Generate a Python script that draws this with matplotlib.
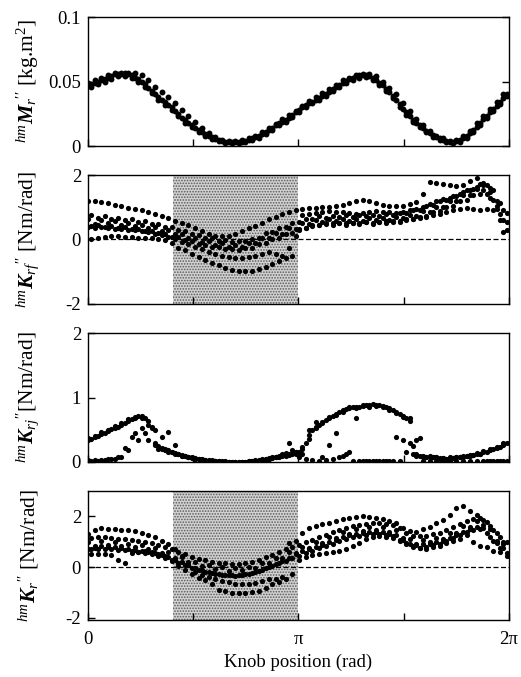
import matplotlib.pyplot as plt
import numpy as np

# knob positions (rad) of the two sampling passes
knob_a = [0.0, 0.1, 0.2, 0.3, 0.4, 0.5, 0.6, 0.7, 0.8, 0.9,
          1.0, 1.1, 1.2, 1.3, 1.4, 1.5, 1.6, 1.7, 1.8, 1.9,
          2.0, 2.1, 2.2, 2.3, 2.4, 2.5, 2.6, 2.7, 2.8, 2.9,
          3.0, 3.1, 3.2, 3.3, 3.4, 3.5, 3.6, 3.7, 3.8, 3.9,
          4.0, 4.1, 4.2, 4.3, 4.4, 4.5, 4.6, 4.7, 4.8, 4.9,
          5.0, 5.1, 5.2, 5.3, 5.4, 5.5, 5.6, 5.7, 5.8, 5.9,
          6.0, 6.1, 6.2]
knob_b = [0.05, 0.15, 0.25, 0.35, 0.45, 0.55, 0.65, 0.75, 0.85, 0.95,
          1.05, 1.15, 1.25, 1.35, 1.45, 1.55, 1.65, 1.75, 1.85, 1.95,
          2.05, 2.15, 2.25, 2.35, 2.45, 2.55, 2.65, 2.75, 2.85, 2.95,
          3.05, 3.15, 3.25, 3.35, 3.45, 3.55, 3.65, 3.75, 3.85, 3.95,
          4.05, 4.15, 4.25, 4.35, 4.45, 4.55, 4.65, 4.75, 4.85, 4.95,
          5.05, 5.15, 5.25, 5.35, 5.45, 5.55, 5.65, 5.75, 5.85, 5.95,
          6.05, 6.15, 6.25]

# hmMr'' [kg.m2]
mr_1 = [0.047, 0.049, 0.051, 0.053, 0.0555, 0.056, 0.0555, 0.053, 0.050, 0.045,
        0.040, 0.036, 0.032, 0.027, 0.022, 0.018, 0.014, 0.011, 0.008, 0.0055,
        0.004, 0.003, 0.003, 0.0035, 0.005, 0.007, 0.0095, 0.0125, 0.016, 0.019,
        0.022, 0.026, 0.030, 0.033, 0.036, 0.039, 0.042, 0.046, 0.049, 0.052,
        0.054, 0.055, 0.054, 0.051, 0.047, 0.042, 0.036, 0.029, 0.023, 0.018,
        0.014, 0.010, 0.007, 0.005, 0.0035, 0.004, 0.006, 0.010, 0.015, 0.021,
        0.026, 0.031, 0.037]
mr_2 = [0.048, 0.050, 0.052, 0.054, 0.056, 0.0565, 0.055, 0.052, 0.048, 0.043,
        0.038, 0.034, 0.030, 0.025, 0.020, 0.016, 0.0125, 0.0095, 0.007, 0.005,
        0.0035, 0.003, 0.0032, 0.004, 0.006, 0.008, 0.011, 0.014, 0.0175, 0.0205,
        0.024, 0.028, 0.0315, 0.0345, 0.0375, 0.0405, 0.044, 0.0475, 0.0505, 0.053,
        0.0548, 0.0552, 0.0528, 0.049, 0.0445, 0.039, 0.0325, 0.026, 0.0205, 0.016,
        0.012, 0.0085, 0.006, 0.004, 0.0035, 0.005, 0.008, 0.0125, 0.018, 0.0235,
        0.0285, 0.034, 0.040]
mr_3 = [0.049, 0.051, 0.053, 0.055, 0.057, 0.057, 0.057, 0.057, 0.055, 0.051,
        0.046, 0.042, 0.038, 0.033, 0.028, 0.023, 0.019, 0.014, 0.010, 0.007,
        0.005, 0.004, 0.004, 0.005, 0.006, 0.008, 0.011, 0.014, 0.017, 0.021,
        0.024, 0.027, 0.031, 0.035, 0.038, 0.041, 0.044, 0.047, 0.051, 0.053,
        0.055, 0.056, 0.056, 0.054, 0.050, 0.045, 0.040, 0.033, 0.027, 0.021,
        0.016, 0.012, 0.008, 0.006, 0.004, 0.005, 0.008, 0.012, 0.018, 0.023,
        0.029, 0.034, 0.040]
mr_4 = [0.046, 0.048, 0.050, 0.052, 0.054, 0.0545, 0.053, 0.050, 0.046, 0.041,
        0.036, 0.032, 0.028, 0.023, 0.018, 0.0145, 0.011, 0.008, 0.0055, 0.0038,
        0.0025, 0.002, 0.002, 0.003, 0.0045, 0.0065, 0.0095, 0.0125, 0.016, 0.019,
        0.0225, 0.0265, 0.030, 0.033, 0.036, 0.039, 0.0425, 0.046, 0.049, 0.0515,
        0.053, 0.0538, 0.0515, 0.0475, 0.043, 0.037, 0.0305, 0.024, 0.019, 0.0145,
        0.0105, 0.007, 0.0045, 0.003, 0.002, 0.0035, 0.0065, 0.011, 0.0165, 0.022,
        0.027, 0.0325, 0.0385]

# hmKrf'' [Nm/rad]
krf_1 = [0.62, 0.48, 0.60, 0.50, 0.58, 0.46, 0.52, 0.42, 0.46, 0.35,
         0.38, 0.27, 0.28, 0.16, 0.17, 0.05, 0.06, -0.08, -0.04, -0.16,
         -0.11, -0.22, -0.16, -0.22, -0.10, -0.12, 0.05, 0.04, 0.20, 0.18,
         0.35, 0.34, 0.50, 0.48, 0.60, 0.54, 0.64, 0.56, 0.64, 0.57,
         0.65, 0.58, 0.66, 0.59, 0.68, 0.61, 0.71, 0.66, 0.77, 0.74,
         0.88, 0.86, 1.02, 1.02, 1.18, 1.20, 1.37, 1.38, 1.56, 1.55,
         1.60, 1.18, 0.90]
krf_2 = [0.76, 0.66, 0.72, 0.63, 0.68, 0.60, 0.63, 0.55, 0.57, 0.48,
         0.49, 0.40, 0.39, 0.28, 0.27, 0.16, 0.15, 0.04, 0.05, -0.04,
         -0.02, -0.09, -0.05, -0.06, 0.03, 0.06, 0.19, 0.22, 0.35, 0.38,
         0.51, 0.54, 0.65, 0.64, 0.72, 0.68, 0.74, 0.70, 0.75, 0.71,
         0.76, 0.72, 0.77, 0.73, 0.79, 0.76, 0.83, 0.82, 0.91, 0.92,
         1.03, 1.06, 1.18, 1.22, 1.35, 1.40, 1.53, 1.58, 1.71, 1.68,
         1.52, 1.12, 0.82]
krf_3 = [0.42, 0.46, 0.38, 0.43, 0.36, 0.39, 0.32, 0.34, 0.26, 0.27,
         0.19, 0.18, 0.09, 0.08, -0.03, -0.05, -0.15, -0.16, -0.24, -0.24,
         -0.30, -0.29, -0.33, -0.26, -0.26, -0.14, -0.10, 0.02, 0.04, 0.16,
         0.20, 0.32, 0.36, 0.45, 0.44, 0.50, 0.46, 0.51, 0.46, 0.52,
         0.47, 0.53, 0.48, 0.54, 0.51, 0.57, 0.55, 0.62, 0.62, 0.70,
         0.73, 0.84, 0.88, 1.00, 1.05, 1.18, 1.24, 1.37, 1.42, 1.40,
         1.22, 0.78, 0.55]
krf_4 = [1.20, 1.18, 1.16, 1.13, 1.08, 1.03, 0.98, 0.95, 0.92, 0.86,
         0.78, 0.72, 0.66, 0.58, 0.52, 0.45, 0.35, 0.25, 0.18, 0.12,
         0.10, 0.12, 0.18, 0.26, 0.35, 0.42, 0.52, 0.62, 0.70, 0.80,
         0.86, 0.92, 0.95, 0.97, 0.99, 1.00, 1.02, 1.03, 1.08, 1.12,
         1.18, 1.22, 1.18, 1.12, 1.08, 1.05, 1.03, 1.05, 1.10, 1.15,
         1.40, 1.78, 1.75, 1.72, 1.68, 1.65, 1.70, 1.82, 1.92, 1.76,
         1.48, 1.05, 0.22]
krf_5 = [0.03, 0.05, 0.08, 0.10, 0.10, 0.09, 0.08, 0.06, 0.05, 0.04,
         0.02, -0.02, -0.10, -0.25, -0.34, -0.45, -0.55, -0.64, -0.72, -0.80,
         -0.87, -0.94, -0.98, -0.99, -0.97, -0.92, -0.86, -0.76, -0.67, -0.58,
         -0.50, 0.28, 0.35, 0.42, 0.45, 0.48, 0.50, 0.50, 0.52, 0.50,
         0.52, 0.54, 0.52, 0.55, 0.56, 0.55, 0.58, 0.60, 0.62, 0.66,
         0.70, 0.75, 0.80, 0.86, 0.90, 0.95, 0.97, 0.95, 0.92, 0.96,
         0.92, 0.60, 0.30]
krf_6 = [0.40, 0.35, 0.38, 0.36, 0.34, 0.32, 0.30, 0.28, 0.25, 0.22,
         0.18, 0.14, 0.08, 0.02, -0.08, -0.15, -0.22, -0.30, -0.38, -0.45,
         -0.50, -0.54, -0.56, -0.58, -0.55, -0.52, -0.46, -0.40, -0.45, -0.50,
         -0.25, 0.10, 0.75, 0.80, 0.82, 0.85, 0.88, 0.86, 0.84, 0.82,
         0.80, 0.82, 0.85, 0.88, 0.86, 0.84, 0.82, 0.85, 0.90, 0.96,
         1.02, 1.10, 1.18, 1.25, 1.30, 1.35, 1.48, 1.55, 1.62, 1.68,
         1.30, 0.95, 0.60]

# hmKrj'' [Nm/rad]
krj_1 = [0.34, 0.39, 0.43, 0.48, 0.53, 0.58, 0.63, 0.68, 0.71, 0.64,
         0.30, 0.22, 0.18, 0.14, 0.11, 0.08, 0.06, 0.04, 0.03, 0.02,
         0.01, 0.005, 0.0, 0.0, 0.01, 0.02, 0.035, 0.05, 0.07, 0.09,
         0.11, 0.13, 0.20, 0.36, 0.55, 0.62, 0.68, 0.75, 0.80, 0.83,
         0.86, 0.87, 0.88, 0.89, 0.87, 0.83, 0.78, 0.72, 0.64, 0.10,
         0.08, 0.08, 0.07, 0.06, 0.06, 0.07, 0.08, 0.10, 0.12, 0.15,
         0.18, 0.22, 0.27]
krj_2 = [0.36, 0.41, 0.45, 0.51, 0.55, 0.61, 0.66, 0.72, 0.68, 0.52,
         0.25, 0.20, 0.16, 0.13, 0.10, 0.07, 0.05, 0.035, 0.025, 0.015,
         0.01, 0.0, 0.0, 0.005, 0.015, 0.03, 0.04, 0.06, 0.08, 0.10,
         0.12, 0.15, 0.30, 0.50, 0.58, 0.65, 0.72, 0.78, 0.82, 0.85,
         0.86, 0.88, 0.90, 0.88, 0.85, 0.81, 0.75, 0.68, 0.12, 0.09,
         0.08, 0.07, 0.06, 0.05, 0.06, 0.08, 0.09, 0.11, 0.13, 0.16,
         0.20, 0.24, 0.29]
krj_3 = [0.03, 0.03, 0.03, 0.04, 0.05, 0.08, 0.19, 0.45, 0.53, 0.34,
         0.50, 0.39, 0.47, 0.26, 0.10, 0.07, 0.05, 0.03, 0.02, 0.01,
         0.0, 0.0, 0.0, 0.0, 0.0, 0.01, 0.02, 0.04, 0.08, 0.12,
         0.30, 0.16, 0.12, 0.50, 0.62, 0.08, 0.26, 0.45, 0.09, 0.16,
         0.68, 0.02, 0.02, 0.02, 0.02, 0.02, 0.39, 0.34, 0.30, 0.34,
         0.02, 0.02, 0.015, 0.015, 0.015, 0.015, 0.015, 0.015, 0.015, 0.015,
         0.015, 0.015, 0.015]
krj_4 = [0.02, 0.02, 0.03, 0.04, 0.08, 0.21, 0.39, 0.34, 0.45, 0.55,
         0.20, 0.18, 0.16, 0.12, 0.09, 0.06, 0.045, 0.03, 0.02, 0.01,
         0.005, 0.0, 0.0, 0.005, 0.01, 0.02, 0.05, 0.08, 0.10, 0.14,
         0.18, 0.08, 0.05, 0.03, 0.02, 0.03, 0.05, 0.08, 0.12, 0.02,
         0.02, 0.02, 0.02, 0.02, 0.02, 0.02, 0.02, 0.16, 0.25, 0.37,
         0.08, 0.07, 0.05, 0.05, 0.06, 0.07, 0.09, 0.11, 0.13, 0.01,
         0.01, 0.01, 0.015]
krj_5 = [0.37, 0.41, 0.46, 0.50, 0.56, 0.60, 0.66, 0.70, 0.68, 0.58,
         0.26, 0.20, 0.16, 0.13, 0.10, 0.07, 0.05, 0.035, 0.02, 0.015,
         0.005, 0.0, 0.005, 0.005, 0.015, 0.025, 0.04, 0.06, 0.08, 0.11,
         0.13, 0.15, 0.24, 0.42, 0.52, 0.60, 0.70, 0.73, 0.78, 0.85,
         0.84, 0.89, 0.86, 0.87, 0.85, 0.80, 0.76, 0.70, 0.68, 0.12,
         0.10, 0.09, 0.07, 0.06, 0.07, 0.08, 0.10, 0.11, 0.14, 0.17,
         0.20, 0.24, 0.29]

# hmKr'' [Nm/rad]
kr_1 = [1.00, 0.85, 1.02, 0.88, 1.00, 0.84, 0.92, 0.78, 0.86, 0.70,
        0.76, 0.56, 0.58, 0.38, 0.40, 0.20, 0.22, 0.03, 0.08, -0.08,
        0.00, -0.14, -0.03, -0.12, 0.02, -0.02, 0.18, 0.16, 0.38, 0.37,
        0.60, 0.56, 0.80, 0.76, 1.00, 0.96, 1.18, 1.14, 1.38, 1.32,
        1.52, 1.42, 1.58, 1.46, 1.57, 1.40, 1.46, 1.15, 1.12, 0.92,
        1.06, 0.98, 1.16, 1.10, 1.36, 1.35, 1.62, 1.58, 1.80, 1.65,
        1.50, 1.02, 0.92]
kr_2 = [1.15, 1.18, 1.19, 1.16, 1.13, 1.10, 1.07, 1.04, 0.99, 0.94,
        0.88, 0.79, 0.70, 0.61, 0.52, 0.42, 0.34, 0.27, 0.21, 0.17,
        0.15, 0.13, 0.14, 0.17, 0.22, 0.30, 0.39, 0.49, 0.60, 0.70,
        0.80, 0.89, 0.99, 1.09, 1.19, 1.28, 1.37, 1.47, 1.56, 1.63,
        1.68, 1.71, 1.73, 1.73, 1.70, 1.65, 1.53, 1.36, 1.24, 1.21,
        1.24, 1.30, 1.36, 1.46, 1.58, 1.70, 1.82, 1.90, 1.94, 1.78,
        1.47, 1.20, 1.00]
kr_3 = [0.70, 0.72, 0.73, 0.72, 0.69, 0.66, 0.63, 0.60, 0.55, 0.50,
        0.44, 0.35, 0.26, 0.17, 0.08, -0.02, -0.10, -0.17, -0.23, -0.27,
        -0.29, -0.31, -0.30, -0.27, -0.22, -0.14, -0.05, 0.05, 0.16, 0.26,
        0.36, 0.45, 0.55, 0.65, 0.75, 0.84, 0.93, 1.03, 1.12, 1.19,
        1.24, 1.27, 1.29, 1.29, 1.26, 1.21, 1.09, 0.92, 0.80, 0.77,
        0.80, 0.86, 0.92, 1.02, 1.14, 1.26, 1.38, 1.46, 1.50, 1.34,
        1.03, 0.76, 0.56]
kr_4 = [1.30, 1.45, 1.55, 1.52, 1.50, 1.48, 1.45, 1.42, 1.35, 1.28,
        1.18, 1.05, 0.90, 0.70, 0.45, 0.10, -0.20, -0.30, -0.40, -0.48,
        -0.55, -0.60, -0.65, -0.68, -0.66, -0.62, -0.55, -0.48, -0.45, -0.38,
        0.95, 1.05, 1.35, 1.55, 1.62, 1.70, 1.74, 1.82, 1.90, 1.94,
        1.98, 2.00, 1.98, 1.94, 1.90, 1.80, 1.74, 1.55, 1.42, 1.40,
        1.52, 1.60, 1.75, 1.87, 2.05, 2.35, 2.40, 2.20, 2.05, 1.85,
        1.62, 1.35, 1.00]
kr_5 = [0.50, 0.52, 0.50, 0.48, 0.30, 0.15, 0.55, 0.60, 0.62, 0.58,
        0.50, 0.45, 0.30, 0.05, -0.12, -0.26, -0.42, -0.52, -0.65, -0.88,
        -0.92, -1.03, -1.03, -1.00, -0.98, -0.92, -0.80, -0.65, -0.58, -0.45,
        -0.28, 0.30, 0.40, 0.48, 0.50, 0.55, 0.58, 0.65, 0.70, 0.82,
        0.95, 1.10, 1.20, 1.22, 1.20, 1.15, 1.05, 0.95, 0.82, 0.75,
        0.70, 0.78, 0.85, 0.95, 1.05, 1.12, 1.25, 1.00, 0.85, 0.80,
        0.65, 0.60, 0.45]
kr_6 = [0.70, 0.75, 0.82, 0.80, 0.78, 0.76, 0.72, 0.68, 0.64, 0.60,
        0.55, 0.48, 0.40, 0.30, 0.20, 0.08, -0.02, -0.12, -0.20, -0.26,
        -0.30, -0.32, -0.34, -0.32, -0.28, -0.20, -0.10, 0.00, 0.12, 0.25,
        0.38, 0.50, 0.62, 0.70, 0.78, 0.88, 0.98, 1.08, 1.18, 1.25,
        1.32, 1.35, 1.38, 1.40, 1.38, 1.32, 1.25, 1.08, 0.92, 0.88,
        0.90, 0.92, 0.98, 1.05, 1.15, 1.28, 1.40, 1.50, 1.58, 1.55,
        1.20, 0.95, 0.75]

shade_start = 1.27  # start of the shaded knob range (rad)

plt.rcParams["font.family"] = "Liberation Serif"
plt.rcParams["mathtext.fontset"] = "custom"
plt.rcParams["mathtext.rm"] = "Liberation Serif"
plt.rcParams["mathtext.it"] = "Liberation Serif:italic"
plt.rcParams["mathtext.bf"] = "Liberation Serif:bold"
plt.rcParams["mathtext.bfit"] = "Liberation Serif:bold:italic"
plt.rcParams["hatch.linewidth"] = 0.8

fig = plt.figure(figsize=(5.21, 6.77), dpi=100)
bottoms = [0.7843, 0.5510, 0.3176, 0.0842]
axes = [fig.add_axes([0.1689, b, 0.808, 0.1905]) for b in bottoms]

panels = [
    (axes[0], [(knob_a, mr_1), (knob_b, mr_2), (knob_a, mr_3), (knob_b, mr_4)],
     (0, 0.1), [0, 0.05, 0.1], ["0", "0.05", "0.1"],
     r"${}^{hm}\boldsymbol{M}_{r}{}^{\prime\prime}$ [kg.m$^{2}$]", False),
    (axes[1], [(knob_a, krf_1), (knob_b, krf_2), (knob_b, krf_3),
               (knob_a, krf_4), (knob_b, krf_5), (knob_a, krf_6)],
     (-2, 2), [-2, 0, 2], ["-2", "0", "2"],
     r"${}^{hm}\boldsymbol{K}_{rf}{}^{\prime\prime}$ [Nm/rad]", True),
    (axes[2], [(knob_a, krj_1), (knob_b, krj_2), (knob_a, krj_3),
               (knob_b, krj_4), (knob_a, krj_5)],
     (0, 2), [0, 1, 2], ["0", "1", "2"],
     r"${}^{hm}\boldsymbol{K}_{rj}{}^{\prime\prime}$[Nm/rad]", False),
    (axes[3], [(knob_a, kr_1), (knob_b, kr_2), (knob_b, kr_3),
               (knob_a, kr_4), (knob_b, kr_5), (knob_a, kr_6)],
     (-2.08, 3.0), [-2, 0, 2], ["-2", "0", "2"],
     r"${}^{hm}\boldsymbol{K}_{r}{}^{\prime\prime}$ [Nm/rad]", True),
]

for i, (ax, series, ylim, yt, ytl, ylabel, shaded) in enumerate(panels):
    if shaded:
        ax.axvspan(shade_start, np.pi, facecolor="#d2d2d2", edgecolor="#5a5a5a",
                   hatch="......", linewidth=0, zorder=0)
        ax.axhline(0, color="black", linestyle=(0, (4, 2)), linewidth=0.9, zorder=1)
    for xs, ys in series:
        ax.scatter(xs, ys, s=18 if i == 0 else 14, color="black", linewidths=0, zorder=2)
    ax.set_xlim(0, 2 * np.pi)
    ax.set_ylim(*ylim)
    ax.set_yticks(yt)
    ax.set_yticklabels(ytl, fontsize=13.5)
    ax.set_xticks([0, np.pi / 2, np.pi, 3 * np.pi / 2, 2 * np.pi])
    if i == 3:
        ax.set_xticklabels(["0", "", "π", "", "2π"], fontsize=13.5)
        ax.set_xlabel("Knob position (rad)", fontsize=13.5, labelpad=4)
    else:
        ax.set_xticklabels([])
    ax.tick_params(direction="in", length=5, width=1, pad=5, right=(i == 0))
    ax.tick_params(axis="x", pad=8)
    for sp in ax.spines.values():
        sp.set_linewidth(1.0)
    ax.set_ylabel(ylabel, fontsize=15.5)
    ax.yaxis.set_label_coords(-0.112, 0.5)

fig.savefig("out.png", dpi=100)
